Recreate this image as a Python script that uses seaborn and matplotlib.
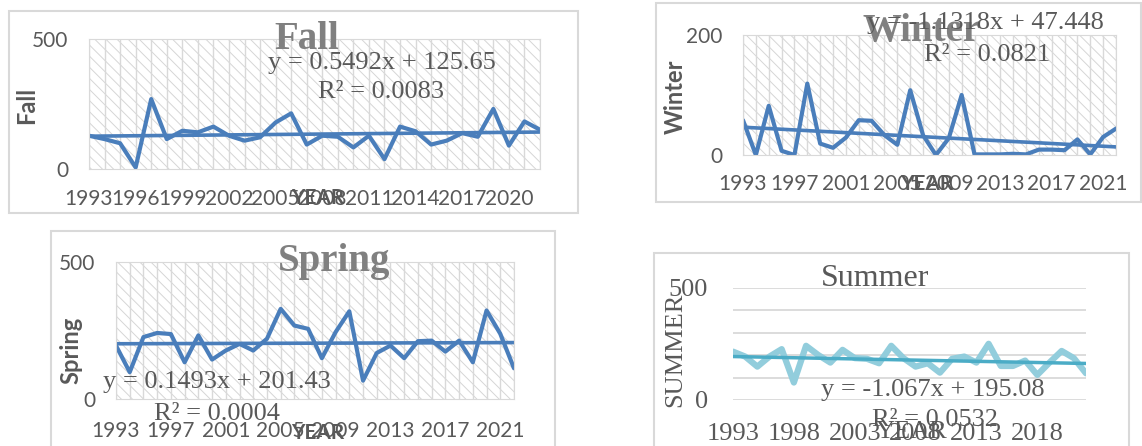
import numpy as np
import pandas as pd
import matplotlib
matplotlib.use("Agg")
import matplotlib.pyplot as plt
from matplotlib.patches import Rectangle
from matplotlib.ticker import MultipleLocator
import seaborn as sns

# Seasonal values 1993-2022
years = list(range(1993, 2023))
fall = [128, 115, 99, 6, 269, 115, 147, 141, 163, 128, 109, 122, 179, 214, 94,
        128, 124, 83, 128, 38, 163, 145, 94, 109, 138, 124, 231, 90, 183, 151]
winter = [58, 0, 82, 7, 0, 119, 19, 12, 29, 58, 57, 33, 17, 108, 33,
          0, 28, 100, 1, 1, 1, 2, 1, 9, 9, 8, 26, 1, 30, 44]
spring = [195, 98, 226, 241, 237, 134, 232, 144, 177, 201, 177, 220, 329, 268, 256,
          149, 244, 320, 67, 168, 195, 149, 211, 213, 173, 213, 134, 323, 238, 112]
summer = [216, 194, 149, 194, 227, 78, 242, 201, 167, 224, 187, 184, 164, 242, 187,
          149, 164, 122, 184, 194, 167, 251, 152, 152, 176, 112, 167, 219, 187, 119]

# Excel trendline coefficients (x = 1..30)
fall_fit = (0.5492, 125.65)
winter_fit = (-1.1318, 47.448)
spring_fit = (0.1493, 201.43)
summer_fit = (-1.067, 195.08)

fall_eq = ["y = 0.5492x + 125.65", "R² = 0.0083"]
winter_eq = ["y = -1.1318x + 47.448", "R² = 0.0821"]
spring_eq = ["y = 0.1493x + 201.43", "R² = 0.0004"]
summer_eq = ["y = -1.067x + 195.08", "R² = 0.0532"]

W, H = 1142, 446
sns.set_style("white")
plt.rcParams["hatch.linewidth"] = 0.7
SANS = ["Lato", "DejaVu Sans"]
SERIF = ["Liberation Serif", "DejaVu Serif"]
GRAY = "#595959"

fig = plt.figure(figsize=(W / 100, H / 100), dpi=100)


def frame(l, t, r, b):
    fig.patches.append(Rectangle((l / W, 1 - b / H), (r - l) / W, (b - t) / H,
                                 transform=fig.transFigure, facecolor="white",
                                 edgecolor="#d9d9d9", lw=1.5, zorder=-5))


def panel(box, plot, values, fit, eq, title, ylab, ymax, step, pos, xpad, summer_style=False):
    frame(*box)
    l, t, r, b = plot
    ax = fig.add_axes([l / W, 1 - b / H, (r - l) / W, (b - t) / H])
    ax.patch.set_alpha(0)
    df = pd.DataFrame({"year": years, "value": values})
    df["trend"] = fit[0] * (df["year"] - 1992) + fit[1]

    if summer_style:
        sns.lineplot(data=df, x="year", y="value", ax=ax, color="#92cddc", lw=4.5)
        sns.lineplot(data=df, x="year", y="trend", ax=ax, color="#4bacc6", lw=2.5)
        ax.set_yticks(np.arange(0, ymax + 1, 100))
        ax.set_yticklabels(["0"] + [""] * (ymax // 100 - 1) + [str(ymax)])
        ax.grid(axis="y", color="#d9d9d9", lw=1.3)
        ax.grid(axis="x", visible=False)
        for s in ax.spines.values():
            s.set_visible(False)
        tfont, tsize, ypad = SERIF, 19, 18
    else:
        ax.add_patch(Rectangle((0, 0), 1, 1, transform=ax.transAxes, facecolor="white",
                               edgecolor="#d6d6d6", hatch="\\\\\\", lw=0, zorder=0))
        ax.xaxis.set_minor_locator(MultipleLocator(1))
        ax.grid(which="both", axis="x", color="#d9d9d9", lw=1.0)
        ax.grid(axis="y", visible=False)
        sns.lineplot(data=df, x="year", y="value", ax=ax, color="#4a7ebb", lw=3)
        sns.lineplot(data=df, x="year", y="trend", ax=ax, color="#4a7ebb", lw=2.6)
        ax.set_yticks([0, ymax])
        for s in ax.spines.values():
            s.set_color("#d9d9d9")
        tfont, tsize, ypad = SANS, 15, 15

    ax.set_xlim(years[0], years[-1])
    ax.set_ylim(0, ymax)
    ax.set_xticks(years[::step])
    ax.tick_params(which="both", length=0, labelcolor=GRAY, labelsize=tsize)
    ax.tick_params(axis="x", pad=xpad)
    ax.tick_params(axis="y", pad=ypad)
    for lab in ax.get_xticklabels() + ax.get_yticklabels():
        lab.set_family(tfont)

    hpx = b - t
    wpx = r - l

    def ax_xy(px, py):
        return (px - l) / wpx, (b - py) / hpx

    # axis labels
    if summer_style:
        ax.set_xlabel("YEAR", family=SERIF, fontsize=19, color=GRAY)
        ax.set_ylabel(ylab, family=SERIF, fontsize=19, color=GRAY)
    else:
        ax.set_xlabel("YEAR", family=SANS, fontsize=15, fontweight="bold", color=GRAY)
        ax.set_ylabel(ylab, family=SANS, fontsize=17, fontweight="bold", color=GRAY)
    ax.xaxis.label.set_va("center")
    ax.xaxis.set_label_coords(*ax_xy(*pos["xlab"]))
    ax.yaxis.label.set_va("center")
    ax.yaxis.set_label_coords(*ax_xy(*pos["ylab"]))

    # title
    tx, ty = ax_xy(*pos["title"])
    if summer_style:
        ax.text(tx, ty, title, transform=ax.transAxes, ha="center", va="center",
                family=SERIF, fontsize=23, color=GRAY, clip_on=False)
    else:
        ax.text(tx, ty, title, transform=ax.transAxes, ha="center", va="center",
                family=SERIF, fontsize=28, fontweight="bold", color="#808080", clip_on=False)

    # trendline equation
    for line, key in zip(eq, ["eq", "r2"]):
        ex, ey = ax_xy(*pos[key])
        ax.text(ex, ey, line, transform=ax.transAxes, ha="center", va="center",
                family=SERIF, fontsize=19, color=GRAY, clip_on=False)
    return ax


panel((9, 11, 578, 213), (89, 39, 540, 169), fall, fall_fit, fall_eq, "Fall", "Fall", 500, 3,
      {"title": (307, 40), "eq": (382, 63), "r2": (381, 92), "ylab": (27, 105), "xlab": (318, 198)}, 14.5)
panel((656, 3, 1141, 202), (743, 35, 1116, 155), winter, winter_fit, winter_eq, "Winter", "Winter", 200, 4,
      {"title": (922, 32), "eq": (985, 23), "r2": (987, 55), "ylab": (675, 97), "xlab": (927, 184)}, 14)
panel((51, 231, 555, 460), (116, 262, 514, 399), spring, spring_fit, spring_eq, "Spring", "Spring", 500, 4,
      {"title": (334, 262), "eq": (217, 382), "r2": (217, 414), "ylab": (71, 350), "xlab": (318, 433)}, 15.5)
panel((654, 253, 1129, 460), (733, 288, 1086, 400), summer, summer_fit, summer_eq, "Summer", "SUMMER", 500, 5,
      {"title": (875, 278), "eq": (933, 390), "r2": (935, 420), "ylab": (675, 350), "xlab": (912, 432)},
      16.5, summer_style=True)

fig.savefig("out.png", dpi=100)
